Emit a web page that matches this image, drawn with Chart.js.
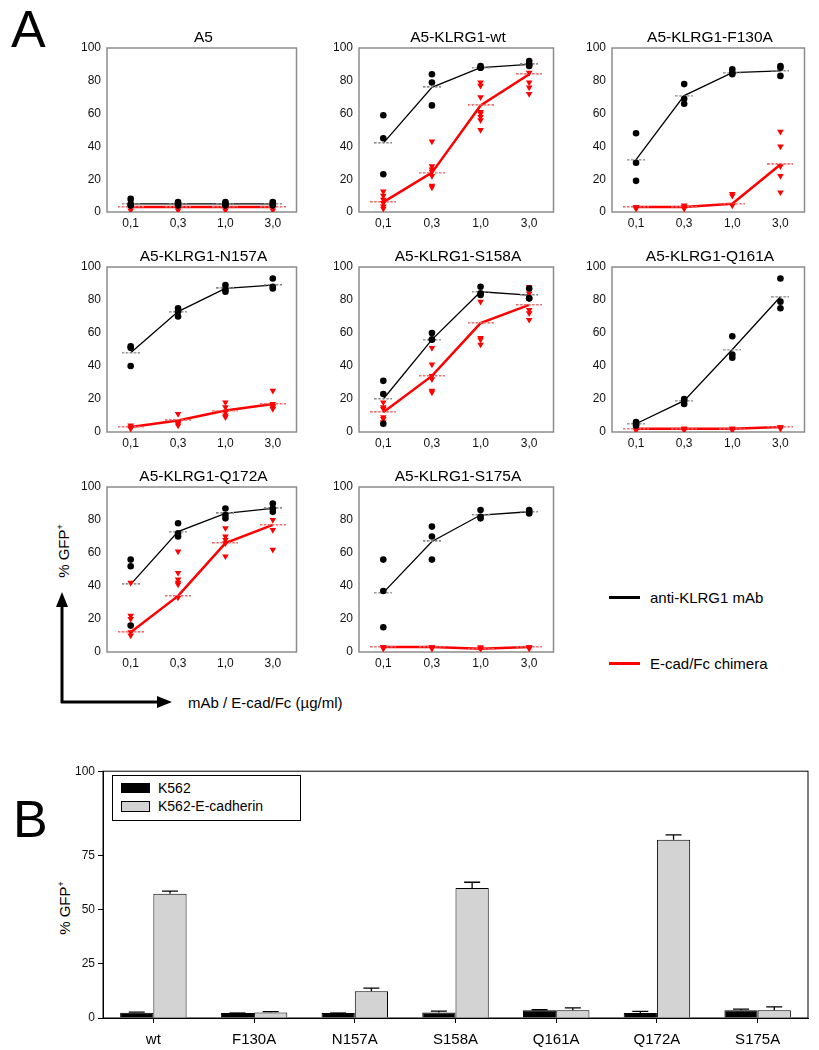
<!DOCTYPE html>
<html>
<head>
<meta charset="utf-8">
<script src="https://cdn.jsdelivr.net/npm/chart.js@4.4.0/dist/chart.umd.min.js"></script>
<style>
  body { margin: 0; background: #fff; font-family: 'Liberation Sans', Arial, sans-serif; }
  #page { position: relative; width: 819px; height: 1050px; overflow: hidden; }
  canvas { position: absolute; }
  .txt { position: absolute; white-space: nowrap; color: #000; line-height: 1; }
  .rot { transform: translate(-50%, -50%) rotate(-90deg); }
  .ptitle { position: absolute; white-space: nowrap; color: #000; line-height: 1; font-size: 15.5px; transform: translate(-50%, -50%); }
  sup { font-size: 60%; vertical-align: 0.6em; }
</style>
</head>
<body>
<div id="page">
  <div class="txt" style="left:11px; top:3px; font-size:52px;">A</div>
  <div class="txt" style="left:13px; top:793px; font-size:52px;">B</div>

  <div class="txt rot" style="left:63px; top:551px; font-size:15px;">% GFP<sup>+</sup></div>
  <svg style="position:absolute; left:0; top:0;" width="819" height="1050">
    <line x1="62" y1="703" x2="62" y2="604" stroke="#000" stroke-width="3"/>
    <polygon points="62,592 56,607 68,607" fill="#000"/>
    <line x1="61" y1="702" x2="160" y2="702" stroke="#000" stroke-width="3"/>
    <polygon points="172,702 157,696 157,708" fill="#000"/>
  </svg>
  <div class="txt" style="left:188px; top:695px; font-size:15px;">mAb / E-cad/Fc (µg/ml)</div>

  <div style="position:absolute; left:609px; top:596px; width:31px; height:3px; background:#000;"></div>
  <div class="txt" style="left:650px; top:590px; font-size:15px;">anti-KLRG1 mAb</div>
  <div style="position:absolute; left:609px; top:662px; width:31px; height:3px; background:#f00;"></div>
  <div class="txt" style="left:650px; top:656px; font-size:15px;">E-cad/Fc chimera</div>

  <div class="txt rot" style="left:64px; top:908px; font-size:15px;">% GFP<sup>+</sup></div>
  <div style="position:absolute; left:112px; top:775px; width:187px; height:44px; border:1px solid #000; background:#fff; z-index:2;">
    <div style="position:absolute; left:8px; top:7px; width:29px; height:10px; background:#000;"></div>
    <div class="txt" style="left:45px; top:5px; font-size:14px;">K562</div>
    <div style="position:absolute; left:8px; top:25px; width:27px; height:9px; background:#d3d3d3; border:1px solid #000;"></div>
    <div class="txt" style="left:45px; top:23px; font-size:14px;">K562-E-cadherin</div>
  </div>
</div>

<script>
// ---- panel A data ----
const doses = ['0,1', '0,3', '1,0', '3,0'];
const panelTitles = ['A5', 'A5-KLRG1-wt', 'A5-KLRG1-F130A', 'A5-KLRG1-N157A',
  'A5-KLRG1-S158A', 'A5-KLRG1-Q161A', 'A5-KLRG1-Q172A', 'A5-KLRG1-S175A'];

// anti-KLRG1 mAb, mean line per dose
const mabMeans = [
  [5, 5, 5, 5],
  [42, 76, 88, 90],
  [32, 71, 85, 86],
  [48, 73, 87, 89],
  [20, 56, 85, 83],
  [5, 19, 50, 82],
  [41, 73, 84, 87],
  [36, 67, 83, 85]
];
// anti-KLRG1 mAb, single measurements per dose
const mabPoints = [
  [[8, 5, 4], [6, 5, 4], [6, 5, 4], [6, 5, 4]],
  [[59, 45, 23], [84, 79, 65], [89, 88, 88], [92, 90, 89]],
  [[48, 30, 19], [78, 69, 66], [87, 85, 84], [89, 88, 83]],
  [[52, 51, 40], [75, 70, 73], [89, 86, 85], [93, 87, 88]],
  [[31, 23, 5], [60, 56, 56], [88, 84, 83], [87, 81, 81]],
  [[6, 5, 4], [20, 19, 17], [58, 47, 45], [93, 79, 75]],
  [[56, 52, 16], [78, 72, 70], [87, 83, 81], [90, 87, 85]],
  [[56, 37, 15], [76, 70, 56], [86, 82, 81], [86, 84, 85]]
];
// E-cad/Fc chimera, mean line per dose
const ecadMeans = [
  [3, 3, 3, 3],
  [6, 24, 65, 84],
  [3, 3, 5, 29],
  [3, 7, 13, 17],
  [12, 34, 66, 77],
  [2, 2, 2, 3],
  [12, 34, 66, 77],
  [3, 3, 2, 3]
];
// E-cad/Fc chimera, single measurements per dose
const ecadPoints = [
  [[6, 3, 1], [5, 3, 1], [5, 3, 1], [6, 3, 1]],
  [[12.5, 10, 7.5, 5.5, 3.4, 2], [43, 28, 26, 24.6, 22, 16, 15], [79, 77, 70, 61, 60, 58, 56, 50], [91, 90, 85, 79, 76, 72]],
  [[3, 2, 3], [4, 3, 2], [11, 10, 4], [49, 40, 28, 22, 12]],
  [[4, 2, 3], [11, 6, 5, 4], [18, 15, 12, 10, 9], [25, 17, 16, 15, 14]],
  [[18, 15, 14, 9, 8, 6], [51, 41, 34, 32, 25, 24], [84, 79, 57, 56, 53], [88, 84, 74, 72, 68]],
  [[2, 2, 1], [2, 2, 1], [2, 2, 1], [3, 3, 2]],
  [[42, 22, 20, 16, 12, 10], [61, 48, 44, 42, 41, 33], [75, 70, 68, 66, 58], [86, 85, 80, 74, 62]],
  [[3, 2, 3], [3, 3, 2], [2, 2, 3], [3, 3, 2]]
];
const aTicks = [0, 20, 40, 60, 80, 100];

// ---- panel B data ----
const mutants = ['wt', 'F130A', 'N157A', 'S158A', 'Q161A', 'Q172A', 'S175A'];
const k562Values = [2.4, 2.3, 2.3, 2.5, 3.6, 2.3, 3.6];
const k562Errors = [0.3, 0, 0, 0.7, 0.2, 0.8, 0.5];
const ecadherinValues = [57.4, 2.5, 12.3, 60, 3.6, 82.3, 3.6];
const ecadherinErrors = [1.2, 0.4, 1.5, 2.7, 1.1, 2.3, 1.5];
// the original axis puts its "100" label at the top of the frame
const bTickValues = [0, 25, 50, 75, 114];
const bTickLabels = ['0', '25', '50', '75', '100'];

Chart.defaults.font.family = "'Liberation Sans', Arial, sans-serif";
Chart.defaults.color = '#111';

const page = document.getElementById('page');

// box around the plot area
const framePlugin = {
  id: 'frame',
  beforeDatasetsDraw(chart, args, opts) {
    const { ctx, chartArea: a } = chart;
    ctx.save();
    ctx.strokeStyle = opts.color;
    ctx.lineWidth = opts.width;
    ctx.strokeRect(a.left, a.top, a.right - a.left, a.bottom - a.top);
    ctx.restore();
  }
};

// upper error bars for panel B
const errorBarPlugin = {
  id: 'errorBars',
  afterDatasetsDraw(chart) {
    const { ctx } = chart;
    const y = chart.scales.y;
    ctx.save();
    ctx.strokeStyle = '#000';
    ctx.lineWidth = 1.3;
    chart.data.datasets.forEach((ds, i) => {
      chart.getDatasetMeta(i).data.forEach((bar, j) => {
        const top = y.getPixelForValue(ds.data[j] + ds.errors[j]);
        ctx.beginPath();
        ctx.moveTo(bar.x, bar.y);
        ctx.lineTo(bar.x, top);
        ctx.moveTo(bar.x - 8, top);
        ctx.lineTo(bar.x + 8, top);
        ctx.stroke();
      });
    });
    ctx.restore();
  }
};

function dashImage(color, width) {
  const c = document.createElement('canvas');
  c.width = width;
  c.height = 2;
  const g = c.getContext('2d');
  g.fillStyle = color;
  for (let x = 0; x < width; x += 4) g.fillRect(x, 0, 2.5, 1.5);
  return c;
}
const greyDash = dashImage('#8a8a8a', 18);
const redDash = dashImage('#e86a6a', 26);

// plot-area positions of the small panels
const colBoxes = [{ left: 107, width: 193 }, { left: 359, width: 198 }, { left: 612, width: 196 }];
const rowBoxes = [{ top: 48, height: 164 }, { top: 267, height: 165 }, { top: 487, height: 165 }];
const Y_AXIS_W = 40, TOP_PAD = 20, X_AXIS_H = 26, PAD_R = 3;

function toPoints(lists) {
  return lists.flatMap((vals, k) => vals.map(v => ({ x: doses[k], y: v })));
}

function makePanel(i) {
  const col = colBoxes[i % 3];
  const row = rowBoxes[Math.floor(i / 3)];
  const canvas = document.createElement('canvas');
  canvas.width = Y_AXIS_W + col.width + PAD_R;
  canvas.height = TOP_PAD + row.height + X_AXIS_H;
  canvas.style.left = (col.left - Y_AXIS_W) + 'px';
  canvas.style.top = (row.top - TOP_PAD) + 'px';
  page.appendChild(canvas);

  // panel title, centred over the plot area
  const title = document.createElement('div');
  title.className = 'ptitle';
  title.textContent = panelTitles[i];
  title.style.left = (col.left + col.width / 2) + 'px';
  title.style.top = (row.top - 11) + 'px';
  page.appendChild(title);

  new Chart(canvas, {
    type: 'line',
    data: {
      labels: doses,
      datasets: [
        {
          data: toPoints(mabPoints[i]), showLine: false,
          pointStyle: 'circle', pointRadius: 3.3, pointBackgroundColor: '#000', pointBorderWidth: 0
        },
        {
          data: toPoints(ecadPoints[i]), showLine: false,
          pointStyle: 'triangle', pointRotation: 180, pointRadius: 3.8,
          pointBackgroundColor: '#f00', pointBorderColor: '#f00', pointBorderWidth: 0
        },
        {
          data: mabMeans[i], borderColor: '#000', borderWidth: 1.3,
          pointStyle: greyDash, pointRadius: 3
        },
        {
          data: ecadMeans[i], borderColor: '#f00', borderWidth: 2.5,
          pointStyle: redDash, pointRadius: 3
        }
      ]
    },
    options: {
      responsive: false,
      animation: false,
      events: [],
      layout: { padding: { top: TOP_PAD, right: PAD_R } },
      scales: {
        x: {
          offset: true,
          grid: { display: false, drawTicks: false },
          border: { display: false },
          ticks: { padding: 4, color: '#111', font: { size: 12 } },
          afterFit: s => { s.height = X_AXIS_H; }
        },
        y: {
          min: 0, max: 100,
          afterBuildTicks: s => { s.ticks = aTicks.map(v => ({ value: v })); },
          grid: { display: false, drawTicks: false },
          border: { display: false },
          ticks: { padding: 6, color: '#111', font: { size: 12 } },
          afterFit: s => { s.width = Y_AXIS_W; }
        }
      },
      plugins: {
        legend: { display: false },
        tooltip: { enabled: false },
        frame: { color: '#8c8c8c', width: 1.5 }
      }
    },
    plugins: [framePlugin]
  });
}

panelTitles.forEach((t, i) => makePanel(i));

// ---- panel B ----
const B_LEFT = 103, B_TOP = 767, B_W = 705, B_H = 251, B_YAXIS = 45, B_XAXIS = 32;
const bCanvas = document.createElement('canvas');
bCanvas.width = B_YAXIS + B_W + 4;
bCanvas.height = 6 + B_H + B_XAXIS;
bCanvas.style.left = (B_LEFT - B_YAXIS) + 'px';
bCanvas.style.top = (B_TOP - 6) + 'px';
page.appendChild(bCanvas);

new Chart(bCanvas, {
  type: 'bar',
  data: {
    labels: mutants,
    datasets: [
      { label: 'K562', data: k562Values, errors: k562Errors,
        backgroundColor: '#000', borderColor: '#000', borderWidth: 1 },
      { label: 'K562-E-cadherin', data: ecadherinValues, errors: ecadherinErrors,
        backgroundColor: '#d3d3d3', borderColor: '#000', borderWidth: 1 }
    ]
  },
  options: {
    responsive: false,
    animation: false,
    events: [],
    layout: { padding: { top: 6, right: 4 } },
    datasets: { bar: { categoryPercentage: 0.66, barPercentage: 1 } },
    scales: {
      x: {
        grid: { display: true, drawOnChartArea: false, drawTicks: true, tickLength: 5, offset: false, color: '#000' },
        border: { display: true, color: '#000', width: 1 },
        ticks: { padding: 8, color: '#000', font: { size: 15 } },
        afterFit: s => { s.height = B_XAXIS; }
      },
      y: {
        min: 0, max: 114,
        afterBuildTicks: s => { s.ticks = bTickValues.map(v => ({ value: v })); },
        grid: { display: true, drawOnChartArea: false, drawTicks: true, tickLength: 5, color: '#000' },
        border: { display: true, color: '#000', width: 1 },
        ticks: {
          padding: 3, color: '#111', font: { size: 12 },
          callback: (v, idx) => bTickLabels[idx]
        },
        afterFit: s => { s.width = B_YAXIS; }
      }
    },
    plugins: {
      legend: { display: false },
      tooltip: { enabled: false },
      frame: { color: '#000', width: 1 }
    }
  },
  plugins: [framePlugin, errorBarPlugin]
});
</script>
</body>
</html>
